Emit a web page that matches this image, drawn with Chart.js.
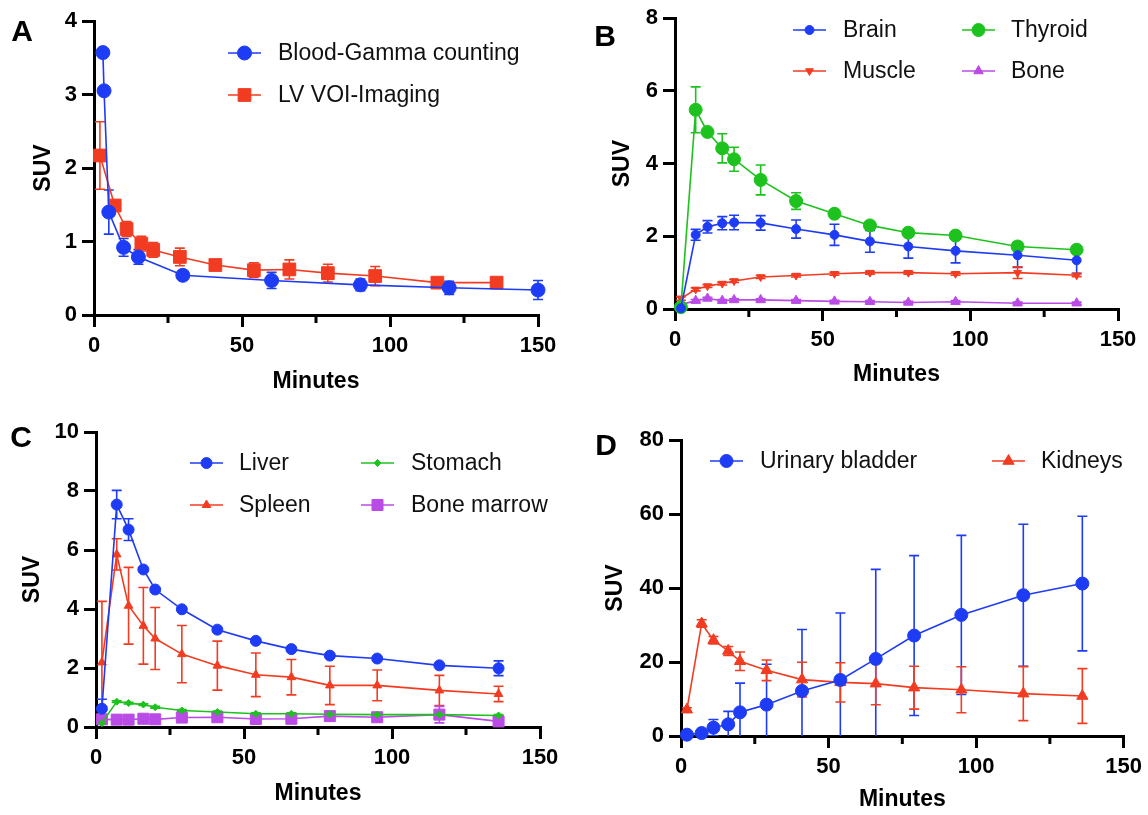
<!DOCTYPE html>
<html>
<head>
<meta charset="utf-8">
<title>SUV time activity curves</title>
<script src="https://cdn.jsdelivr.net/npm/chart.js@4.4.1/dist/chart.umd.min.js"></script>
<style>
  body { margin: 0; background: #fff; }
  #wrap { position: relative; width: 1148px; height: 815px; }
  canvas { position: absolute; }
</style>
</head>
<body>
<div id="wrap">
  <canvas id="chartA" width="574" height="407" style="left:0;top:0"></canvas>
  <canvas id="chartB" width="574" height="407" style="left:574px;top:0"></canvas>
  <canvas id="chartC" width="574" height="405" style="left:0;top:410px"></canvas>
  <canvas id="chartD" width="574" height="405" style="left:574px;top:410px"></canvas>
</div>
<script>
// sampling times (minutes)
const minutes = [2, 7, 11, 16, 20, 29, 41, 54, 66, 79, 95, 116, 136];
const bloodMinutes = [3, 3.4, 5, 10, 15, 30, 60, 90, 120, 150];

// tick labels
const xTicks = [0, 50, 100, 150];
const yTicksA = [0, 1, 2, 3, 4];
const yTicksB = [0, 2, 4, 6, 8];
const yTicksC = [0, 2, 4, 6, 8, 10];
const yTicksD = [0, 20, 40, 60, 80];

// A - blood
const bloodSUV = [3.57, 3.05, 1.40, 0.92, 0.79, 0.54, 0.47, 0.41, 0.37, 0.34];
const bloodSD  = [0, 0, 0.30, 0.12, 0.10, 0.03, 0.11, 0.08, 0.09, 0.13];
const lvSUV = [2.17, 1.49, 1.17, 0.97, 0.885, 0.79, 0.68, 0.61, 0.62, 0.57, 0.53, 0.44, 0.44];
const lvSD  = [0.46, 0.05, 0.10, 0.10, 0.10, 0.12, 0.06, 0.10, 0.13, 0.12, 0.13, 0.03, 0.03];

// B
const brainSUV   = [0.02, 2.04, 2.26, 2.36, 2.38, 2.37, 2.20, 2.04, 1.86, 1.72, 1.60, 1.48, 1.34];
const brainSD    = [0.02, 0.15, 0.17, 0.18, 0.20, 0.20, 0.25, 0.29, 0.30, 0.32, 0.33, 0.34, 0.36];
const thyroidSUV = [0.05, 5.48, 4.87, 4.42, 4.12, 3.55, 2.97, 2.62, 2.30, 2.10, 2.02, 1.72, 1.63];
const thyroidSD  = [0.02, 0.63, 0.05, 0.40, 0.33, 0.41, 0.23, 0.05, 0.08, 0.06, 0.08, 0.12, 0.07];
const muscleSUV  = [0.29, 0.54, 0.63, 0.70, 0.77, 0.88, 0.92, 0.97, 1.00, 1.00, 0.97, 1.00, 0.93];
const muscleSD   = [0.05, 0.04, 0.04, 0.04, 0.04, 0.04, 0.04, 0.04, 0.04, 0.04, 0.04, 0.16, 0.04];
const boneSUV    = [0.12, 0.23, 0.29, 0.23, 0.25, 0.25, 0.23, 0.21, 0.20, 0.18, 0.20, 0.16, 0.16];
const boneSD     = [0.03, 0.03, 0.03, 0.03, 0.03, 0.03, 0.03, 0.03, 0.03, 0.03, 0.03, 0.03, 0.03];

// C
const liverSUV   = [0.62, 7.54, 6.69, 5.34, 4.66, 3.99, 3.30, 2.92, 2.64, 2.42, 2.32, 2.09, 1.99];
const liverSD    = [0.32, 0.48, 0.37, 0.05, 0.05, 0.05, 0.05, 0.05, 0.05, 0.05, 0.05, 0.05, 0.25];
const spleenSUV  = [2.19, 5.85, 4.11, 3.43, 3.00, 2.47, 2.08, 1.77, 1.69, 1.41, 1.41, 1.24, 1.12];
const spleenSD   = [2.07, 0.53, 1.30, 1.30, 1.05, 0.97, 0.83, 0.74, 0.60, 0.65, 0.52, 0.51, 0.26];
const stomachSUV = [0.13, 0.86, 0.81, 0.76, 0.67, 0.56, 0.51, 0.45, 0.45, 0.43, 0.42, 0.42, 0.39];
const stomachSD  = [0.03, 0.03, 0.03, 0.03, 0.03, 0.03, 0.03, 0.03, 0.03, 0.03, 0.03, 0.03, 0.03];
const marrowSUV  = [0.26, 0.25, 0.25, 0.28, 0.26, 0.32, 0.33, 0.27, 0.28, 0.37, 0.33, 0.42, 0.19];
const marrowSD   = [0.04, 0.04, 0.04, 0.04, 0.04, 0.04, 0.04, 0.04, 0.04, 0.04, 0.04, 0.28, 0.04];

// D
const bladderSUV = [0.36, 0.8, 2.25, 3.16, 6.4, 8.48, 12.17, 15.15, 20.83, 27.14, 32.73, 38.05, 41.2];
const bladderSD  = [0.3, 0.5, 2.2, 3.5, 7.9, 10.9, 16.6, 18.1, 24.2, 21.6, 21.5, 19.2, 18.2];
const kidneySUV  = [7.12, 30.4, 25.9, 23.0, 20.2, 17.76, 15.24, 14.5, 14.15, 13.07, 12.5, 11.45, 10.8];
const kidneySD   = [0.5, 1.0, 1.0, 1.2, 2.5, 2.8, 4.7, 5.3, 5.7, 5.8, 6.2, 7.3, 7.4];

const BLUE = '#1e3cf5', RED = '#f23c22', GREEN = '#1ec21e', PURPLE = '#bb4be6';
const FONT = '"Liberation Sans", Arial, Helvetica, sans-serif';

function series(label, xs, ys, sd, color, style, radius, rotation) {
  return {
    label: label,
    data: xs.map((x, i) => ({ x: x, y: ys[i] })),
    errors: sd,
    borderColor: color,
    backgroundColor: color,
    pointBackgroundColor: color,
    pointBorderColor: color,
    pointBorderWidth: 1,
    borderWidth: 1.6,
    pointStyle: style,
    pointRadius: radius,
    pointHoverRadius: radius,
    pointRotation: rotation || 0,
    clip: false,
    tension: 0
  };
}

// error bars drawn from the scales, behind the markers
const errorBars = {
  id: 'errorBars',
  beforeDatasetsDraw(chart) {
    const { ctx, chartArea } = chart;
    const x = chart.scales.x, y = chart.scales.y;
    ctx.save();
    ctx.beginPath();
    ctx.rect(chartArea.left - 30, 0, chartArea.width + 60, chartArea.bottom);
    ctx.clip();
    chart.data.datasets.forEach((ds) => {
      if (!ds.errors) return;
      ctx.strokeStyle = ds.borderColor;
      ctx.lineWidth = 1.6;
      ds.data.forEach((p, j) => {
        const e = ds.errors[j];
        if (!e) return;
        const px = x.getPixelForValue(p.x);
        const top = y.getPixelForValue(p.y + e);
        const bot = y.getPixelForValue(p.y - e);
        ctx.beginPath();
        ctx.moveTo(px, top); ctx.lineTo(px, bot);
        ctx.moveTo(px - 5, top); ctx.lineTo(px + 5, top);
        ctx.moveTo(px - 5, bot); ctx.lineTo(px + 5, bot);
        ctx.stroke();
      });
    });
    ctx.restore();
  }
};

// short minor ticks between the labelled x ticks, plus legend and panel letter
const decorations = {
  id: 'decorations',
  afterDraw(chart, args, opts) {
    const { ctx, chartArea } = chart;
    const x = chart.scales.x;
    ctx.save();
    ctx.strokeStyle = '#000';
    ctx.lineWidth = 3;
    for (let i = 0; i < x.ticks.length - 1; i++) {
      const px = x.getPixelForValue((x.ticks[i].value + x.ticks[i + 1].value) / 2);
      ctx.beginPath();
      ctx.moveTo(px, chartArea.bottom);
      ctx.lineTo(px, chartArea.bottom + 8);
      ctx.stroke();
    }

    (opts.items || []).forEach((it) => {
      const ds = chart.data.datasets[it.i];
      ctx.strokeStyle = ds.borderColor;
      ctx.fillStyle = ds.borderColor;
      ctx.lineWidth = 1.6;
      ctx.beginPath();
      ctx.moveTo(it.x, it.y);
      ctx.lineTo(it.x + 33, it.y);
      ctx.stroke();
      ctx.lineWidth = 1;
      Chart.helpers.drawPoint(ctx, {
        pointStyle: ds.pointStyle, radius: ds.pointRadius,
        rotation: ds.pointRotation, borderWidth: 1
      }, it.x + 16.5, it.y);
      ctx.fillStyle = '#111';
      ctx.font = '23px ' + FONT;
      ctx.textAlign = 'left';
      ctx.textBaseline = 'middle';
      ctx.fillText(ds.label, it.tx, it.y + 1);
    });

    if (opts.letter) {
      ctx.fillStyle = '#000';
      ctx.font = 'bold 30px ' + FONT;
      ctx.textAlign = 'center';
      ctx.textBaseline = 'middle';
      ctx.fillText(opts.letter, opts.lx, opts.ly);
    }
    ctx.restore();
  }
};

function makeChart(id, p, datasets, yTicks, legendItems) {
  const w = p.w, h = p.h, a = p.area;
  const tickFont = { family: FONT, size: 22, weight: 'bold' };
  const titleFont = { family: FONT, size: 23, weight: 'bold', lineHeight: 1 };
  return new Chart(document.getElementById(id), {
    type: 'line',
    data: { datasets: datasets },
    plugins: [errorBars, decorations],
    options: {
      responsive: false,
      animation: false,
      events: [],
      layout: { padding: { left: 0, top: a[1], right: w - a[2], bottom: 0 } },
      plugins: {
        legend: { display: false },
        tooltip: { enabled: false },
        decorations: { items: legendItems, letter: p.letter, lx: p.lx, ly: p.ly }
      },
      scales: {
        x: {
          type: 'linear', min: xTicks[0], max: xTicks[xTicks.length - 1],
          afterBuildTicks: (s) => { s.ticks = xTicks.map((v) => ({ value: v })); },
          afterFit: (s) => { s.height = h - a[3]; },
          ticks: { color: '#000', font: tickFont, padding: 6, maxRotation: 0 },
          grid: { drawOnChartArea: false, drawTicks: true, tickLength: 12, tickWidth: 3, tickColor: '#000', lineWidth: 3, color: '#000' },
          border: { color: '#000', width: 3 },
          title: { display: true, text: 'Minutes', color: '#000', font: titleFont,
                   padding: { top: 0, bottom: h - p.xt - 11.5 } }
        },
        y: {
          type: 'linear', position: 'left', min: yTicks[0], max: yTicks[yTicks.length - 1],
          afterBuildTicks: (s) => { s.ticks = yTicks.map((v) => ({ value: v })); },
          afterFit: (s) => { s.width = a[0]; },
          ticks: { color: '#000', font: tickFont, padding: 5 },
          grid: { drawOnChartArea: false, drawTicks: true, tickLength: 12, tickWidth: 3, tickColor: '#000', lineWidth: 3, color: '#000' },
          border: { color: '#000', width: 3 },
          title: { display: true, text: 'SUV', color: '#000', font: titleFont,
                   padding: { top: p.yt - 11.5, bottom: 0 } }
        }
      }
    }
  });
}

makeChart('chartA',
  { w: 574, h: 407, area: [94, 21, 538, 315], yt: 44, xt: 381.5, letter: 'A', lx: 22, ly: 33 },
  [
    series('Blood-Gamma counting', bloodMinutes, bloodSUV, bloodSD, BLUE, 'circle', 7),
    series('LV VOI-Imaging', minutes, lvSUV, lvSD, RED, 'rect', 9)
  ],
  yTicksA,
  [ { i: 0, x: 228, y: 53, tx: 278 }, { i: 1, x: 228, y: 95, tx: 278 } ]);

makeChart('chartB',
  { w: 574, h: 407, area: [101, 14, 544, 309], yt: 49, xt: 375, letter: 'B', lx: 31, ly: 38 },
  [
    series('Brain', minutes, brainSUV, brainSD, BLUE, 'circle', 4.5),
    series('Thyroid', minutes, thyroidSUV, thyroidSD, GREEN, 'circle', 6.5),
    series('Muscle', minutes, muscleSUV, muscleSD, RED, 'triangle', 4.5, 180),
    series('Bone', minutes, boneSUV, boneSD, PURPLE, 'triangle', 5.5)
  ],
  yTicksB,
  [ { i: 0, x: 219, y: 30, tx: 269 }, { i: 1, x: 388, y: 30, tx: 437 },
    { i: 2, x: 219, y: 71, tx: 269 }, { i: 3, x: 388, y: 71, tx: 437 } ]);

makeChart('chartC',
  { w: 574, h: 405, area: [96, 22, 540, 317], yt: 33, xt: 383.5, letter: 'C', lx: 21, ly: 29 },
  [
    series('Liver', minutes, liverSUV, liverSD, BLUE, 'circle', 5.5),
    series('Stomach', minutes, stomachSUV, stomachSD, GREEN, 'rectRot', 3.5),
    series('Spleen', minutes, spleenSUV, spleenSD, RED, 'triangle', 5),
    series('Bone marrow', minutes, marrowSUV, marrowSD, PURPLE, 'rect', 7.8)
  ],
  yTicksC,
  [ { i: 0, x: 190, y: 53, tx: 239 }, { i: 1, x: 361, y: 53, tx: 411 },
    { i: 2, x: 190, y: 95, tx: 239 }, { i: 3, x: 361, y: 95, tx: 411 } ]);

makeChart('chartD',
  { w: 574, h: 405, area: [107, 30, 550, 326], yt: 42, xt: 390, letter: 'D', lx: 32, ly: 37 },
  [
    series('Urinary bladder', minutes, bladderSUV, bladderSD, BLUE, 'circle', 6.5),
    series('Kidneys', minutes, kidneySUV, kidneySD, RED, 'triangle', 6.5)
  ],
  yTicksD,
  [ { i: 0, x: 136, y: 51, tx: 186 }, { i: 1, x: 418, y: 51, tx: 467 } ]);
</script>
</body>
</html>
